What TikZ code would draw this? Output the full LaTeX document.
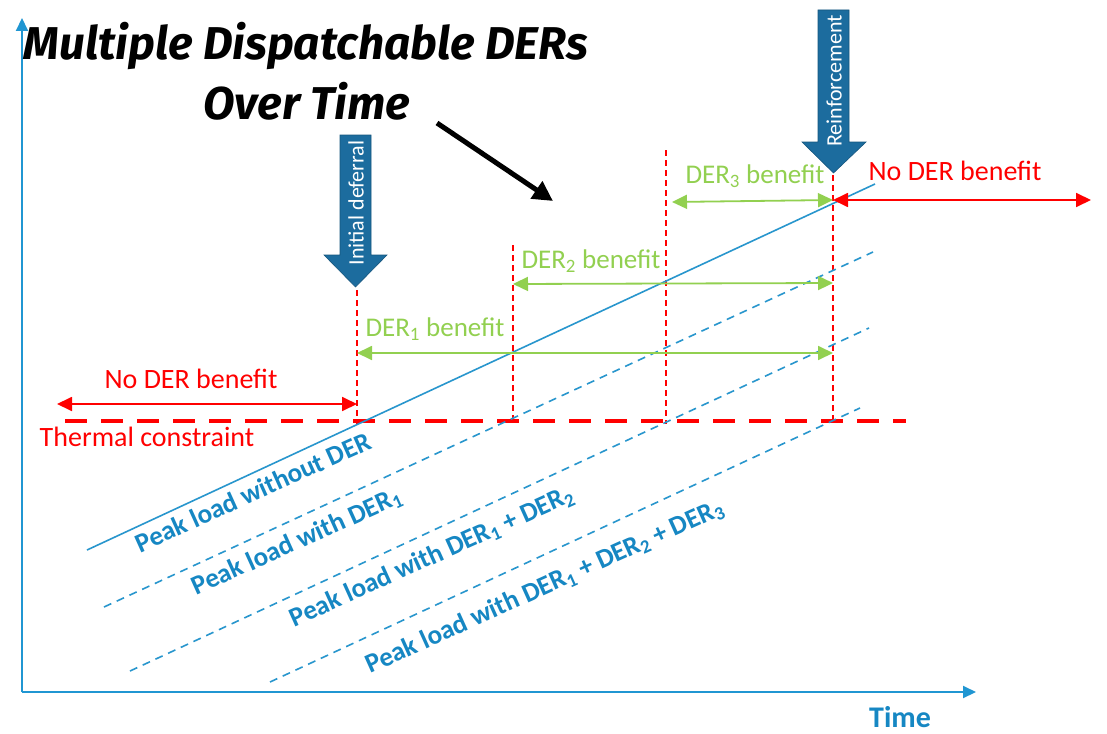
\documentclass[tikz,border=0pt]{standalone}
\usepackage{fontspec}
\setmainfont{Carlito}
\newfontfamily\titlefont{Fira Sans}
\usetikzlibrary{arrows.meta}
\definecolor{axisblue}{RGB}{32,150,210}
\definecolor{lineblue}{RGB}{40,150,205}
\definecolor{textblue}{RGB}{22,135,195}
\definecolor{derred}{RGB}{255,0,0}
\definecolor{dergreen}{RGB}{146,208,80}
\definecolor{arrowblue}{RGB}{28,108,158}
\tikzset{
  axisline/.style={axisblue, line width=2pt, -{Triangle[length=13pt,width=12pt]}},
  redv/.style={derred, line width=1.2pt, dash pattern=on 6pt off 4pt},
  thermal/.style={derred, line width=4pt, dash pattern=on 22pt off 14pt},
  loadsolid/.style={lineblue, line width=1.6pt},
  loaddash/.style={lineblue, line width=1.6pt, dash pattern=on 8pt off 6pt},
  greenarr/.style={dergreen, line width=1.8pt, {Triangle[length=15pt,width=14pt]}-{Triangle[length=15pt,width=14pt]}},
  redarr/.style={derred, line width=1.8pt, {Triangle[length=15pt,width=14pt]}-{Triangle[length=15pt,width=14pt]}},
  redlbl/.style={derred, font=\fontsize{28}{30}\selectfont, inner sep=0pt},
  greenlbl/.style={dergreen, font=\fontsize{27}{29}\selectfont, inner sep=0pt},
  loadlbl/.style={textblue, font=\fontsize{27}{29}\selectfont\bfseries, rotate=24.3, inner sep=0pt},
  blockarrow/.style={fill=arrowblue, draw=arrowblue!80!black, line width=0.6pt},
  blocktext/.style={white, font=\fontsize{22}{24}\selectfont, rotate=90, inner sep=0pt},
  titletext/.style={black, font=\titlefont\bfseries\itshape\fontsize{46}{50}\selectfont, inner sep=0pt},
}
\begin{document}
\begin{tikzpicture}[x=1pt,y=-1pt]
\useasboundingbox (0,0) rectangle (1107,733);
\fill[white] (0,0) rectangle (1107,733);

% axes
\coordinate (O) at (22,692);
\coordinate (Ytop) at (22,18);
\coordinate (Xend) at (976,692);
\draw[axisline] (O) -- (Ytop);
\draw[axisline] (O) -- (Xend);
\node[textblue, font=\fontsize{30}{32}\selectfont\bfseries, inner sep=0pt] (time) at (900,717) {Time};

% red vertical dashed lines
\coordinate (v1t) at (357,290); \coordinate (v1b) at (357,424);
\coordinate (v2t) at (513,245); \coordinate (v2b) at (513,424);
\coordinate (v3t) at (666,150); \coordinate (v3b) at (666,424);
\coordinate (v4t) at (833,175); \coordinate (v4b) at (833,424);
\draw[redv] (v1t) -- (v1b);
\draw[redv] (v2t) -- (v2b);
\draw[redv] (v3t) -- (v3b);
\draw[redv] (v4t) -- (v4b);

% thermal constraint
\coordinate (th1) at (65,421);
\coordinate (th2) at (906,421);
\draw[thermal] (th1) -- (th2);
\node[redlbl] (thlbl) at (147,437) {Thermal constraint};

% load lines
\coordinate (L0a) at (87,550);  \coordinate (L0b) at (875,184);
\coordinate (L1a) at (104,607); \coordinate (L1b) at (873,252);
\coordinate (L2a) at (130,671); \coordinate (L2b) at (869,328);
\coordinate (L3a) at (270,682); \coordinate (L3b) at (860,408);
\draw[loadsolid] (L0a) -- (L0b);
\draw[loaddash] (L1a) -- (L1b);
\draw[loaddash] (L2a) -- (L2b);
\draw[loaddash] (L3a) -- (L3b);
\node[loadlbl] (p0) at (253,492) {Peak load without DER};
\node[loadlbl] (p1) at (297,542) {Peak load with DER\textsubscript{1}};
\node[loadlbl] (p2) at (432,557) {Peak load with DER\textsubscript{1} + DER\textsubscript{2}};
\node[loadlbl] (p3) at (545,587) {Peak load with DER\textsubscript{1} + DER\textsubscript{2} + DER\textsubscript{3}};

% benefit arrows
\coordinate (nl1) at (57,404);  \coordinate (nl2) at (357,404);
\draw[redarr] (nl1) -- (nl2);
\node[redlbl] (nlbl) at (191,379) {No DER benefit};
\coordinate (nr1) at (833,200); \coordinate (nr2) at (1091,200);
\draw[redarr] (nr1) -- (nr2);
\node[redlbl] (nrlbl) at (955,171) {No DER benefit};

\coordinate (g1a) at (357,353); \coordinate (g1b) at (833,353);
\draw[greenarr] (g1a) -- (g1b);
\node[greenlbl] (g1lbl) at (435,329) {DER\textsubscript{1} benefit};
\coordinate (g2a) at (513,284); \coordinate (g2b) at (833,283);
\draw[greenarr] (g2a) -- (g2b);
\node[greenlbl] (g2lbl) at (591,261) {DER\textsubscript{2} benefit};
\coordinate (g3a) at (672,202); \coordinate (g3b) at (833,200);
\draw[greenarr] (g3a) -- (g3b);
\node[greenlbl] (g3lbl) at (755,176) {DER\textsubscript{3} benefit};

% block arrows
\draw[blockarrow] (340,135) -- (371,135) -- (371,255) -- (387,255) -- (355.5,287) -- (324,255) -- (340,255) -- cycle;
\node[blocktext] (initdef) at (356,203) {Initial deferral};
\draw[blockarrow] (818,10) -- (849,10) -- (849,142) -- (866,142) -- (833.5,173) -- (802,142) -- (818,142) -- cycle;
\node[blocktext] (reinf) at (834,81) {Reinforcement};

% title
\node[titletext] (title1) at (306,46) {Multiple Dispatchable DERs};
\node[titletext] (title2) at (307,101) {Over Time};
\coordinate (ba1) at (437,123);
\coordinate (ba2) at (553,201);
\draw[black, line width=5pt, -{Triangle[length=20pt,width=20pt]}] (ba1) -- (ba2);
\end{tikzpicture}
\end{document}
